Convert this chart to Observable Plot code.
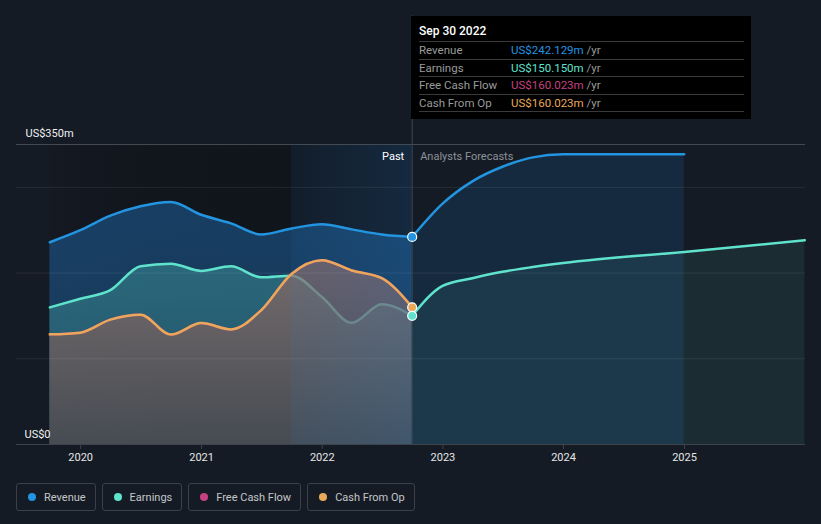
<!DOCTYPE html>
<html>
<head>
<meta charset="utf-8">
<script src="https://cdn.jsdelivr.net/npm/d3@7"></script>
<script src="https://cdn.jsdelivr.net/npm/@observablehq/plot@0.6"></script>
<style>
  html, body { margin: 0; padding: 0; background: #151b24; }
  body { width: 821px; height: 524px; position: relative; overflow: hidden; font-family: Roboto, "Noto Sans", sans-serif; }
  #chart { position: absolute; left: 0; top: 0; }
  #tip { position: absolute; left: 411px; top: 16px; width: 340px; height: 103px; background: #000; box-sizing: border-box; padding: 0 7px 0 8px; }
  #tip .title { color: #fff; font-size: 12px; font-weight: 500; height: 25px; line-height: 30px; }
  #tip .row { height: 16.5px; border-top: 1px solid #3a3a3a; font-size: 11.5px; line-height: 16.5px; color: #9a9a9a; display: flex; }
  #tip .row:last-child { border-bottom: 1px solid #3a3a3a; }
  #tip .lab { width: 92px; }
  #legend { position: absolute; left: 16px; top: 483px; display: flex; gap: 6px; }
  .item { height: 26px; border: 1px solid #3a404a; border-radius: 3px; display: flex; align-items: center; padding: 0 9px 0 11px; color: #c4c6c9; font-size: 11px; box-sizing: content-box; }
  .dot { width: 8px; height: 8px; border-radius: 50%; margin-right: 8px; }
</style>
</head>
<body>
<div id="chart"></div>
<div id="tip"></div>
<div id="legend"></div>
<script>
// ---- data (values in US$ millions) ----
const pastDates = ["2019-09-30","2019-12-31","2020-03-31","2020-06-30","2020-09-30","2020-12-31","2021-03-31","2021-06-30","2021-09-30","2021-12-31","2022-03-31","2022-06-30","2022-09-30"];
const revenuePast  = [236, 250, 267, 278, 283, 268, 258, 245, 252, 257, 251, 245, 242.129];
const earningsPast = [160, 170, 180, 208, 211, 202.5, 208, 195, 197, 172, 142, 163.5, 150.15];
const fcfPast      = [128.5, 130.5, 145.7, 151.5, 128.2, 141.7, 134.3, 156.5, 199, 215, 203, 194, 160.023];
const cfoPast      = [128.5, 130.5, 145.7, 151.5, 128.2, 141.7, 134.3, 156.5, 199, 215, 203, 194, 160.023];

const revForecastDates = ["2022-09-30","2022-12-31","2023-03-31","2023-06-30","2023-09-30","2023-12-31","2024-12-31"];
const revForecast      = [242.129, 281, 307, 324, 335, 338.5, 338.5];
const earnForecastDates = ["2022-09-30","2022-12-31","2023-03-31","2023-06-30","2023-09-30","2023-12-31","2024-12-31","2025-12-31"];
const earnForecast      = [150.15, 185, 194, 201.5, 207, 211.7, 224.7, 238.3];

const latestDate = "2022-09-30";
const highlightStart = "2021-09-30";
const xTickYears = ["2020-01-01","2021-01-01","2022-01-01","2023-01-01","2024-01-01","2025-01-01"];
const yTicks = [100, 200, 300];
const yMax = 350;
const yTopLabel = "US$350m";
const yZeroLabel = "US$0";

const series = [
  {name: "Revenue", color: "#2394e0", value: "US$242.129m"},
  {name: "Earnings", color: "#5fe3cc", value: "US$150.150m"},
  {name: "Free Cash Flow", color: "#c7407f", value: "US$160.023m"},
  {name: "Cash From Op", color: "#e9a95b", value: "US$160.023m"}
];

// ---- build tables ----
const P = d3.utcParse("%Y-%m-%d");
const mk = (dates, vals) => dates.map((d, i) => ({date: P(d), v: vals[i]}));
const rev = mk(pastDates, revenuePast);
const earn = mk(pastDates, earningsPast);
const fcf = mk(pastDates, fcfPast);
const cfo = mk(pastDates, cfoPast);
const revF = mk(revForecastDates, revForecast);
const earnF = mk(earnForecastDates, earnForecast);
const last = P(latestDate);
const lastPts = [
  {date: last, v: revenuePast.at(-1), c: series[0].color},
  {date: last, v: cfoPast.at(-1), c: series[3].color},
  {date: last, v: earningsPast.at(-1), c: series[1].color}
];
const curve = "monotone-x";

const plot = Plot.plot({
  width: 821,
  height: 470,
  marginLeft: 16,
  marginRight: 16,
  marginTop: 144,
  marginBottom: 26,
  style: {background: "transparent", fontFamily: "Roboto, sans-serif"},
  x: {type: "utc", domain: [P("2019-06-21"), P("2026-01-02")]},
  y: {domain: [0, yMax], axis: null},
  marks: [
    Plot.rectY([{a: P(pastDates[0]), b: last}], {x1: "a", x2: "b", y1: 0, y2: yMax, fill: "url(#pastBg)"}),
    Plot.areaY(rev, {x: "date", y: "v", curve, fill: "url(#revFill)"}),
    Plot.areaY(earn, {x: "date", y: "v", curve, fill: "url(#earnFill)"}),
    Plot.lineY(earn, {x: "date", y: "v", curve, stroke: series[1].color, strokeWidth: 2.5}),
    Plot.areaY(cfo, {x: "date", y: "v", curve, fill: "url(#cashFill)"}),
    Plot.rectY([{a: P(highlightStart), b: last}], {x1: "a", x2: "b", y1: 0, y2: yMax, fill: "url(#hlFill)"}),
    Plot.areaY(revF, {x: "date", y: "v", curve, fill: "rgb(33,125,205)", fillOpacity: 0.16}),
    Plot.areaY(earnF, {x: "date", y: "v", curve, fill: "rgb(70,150,150)", fillOpacity: 0.14}),
    Plot.ruleY(yTicks, {stroke: "#ffffff", strokeOpacity: 0.08}),
    Plot.ruleY([yMax], {stroke: "#444a53"}),
    Plot.ruleY([0], {stroke: "#3d434c"}),
    Plot.lineY(rev, {x: "date", y: "v", curve, stroke: series[0].color, strokeWidth: 2.5}),
    Plot.lineY(fcf, {x: "date", y: "v", curve, stroke: series[2].color, strokeWidth: 2.5}),
    Plot.lineY(cfo, {x: "date", y: "v", curve, stroke: series[3].color, strokeWidth: 2.5}),
    Plot.lineY(revF, {x: "date", y: "v", curve, stroke: series[0].color, strokeWidth: 2.5}),
    Plot.lineY(earnF, {x: "date", y: "v", curve, stroke: series[1].color, strokeWidth: 2.5}),
    Plot.ruleX([last], {y1: 0, y2: 500, stroke: "#3c4754", strokeWidth: 1}),
    Plot.dot(lastPts, {x: "date", y: "v", fill: "c", r: 4.5, stroke: "#ffffff", strokeWidth: 1.2}),
    Plot.axisX(xTickYears.map(P), {tickFormat: d3.utcFormat("%Y"), tickSize: 5, tickPadding: 4, stroke: "#3d434c", fill: "#e6e6e6", fontSize: 11, label: null}),
    Plot.text([yTopLabel], {y: yMax, text: d => d, frameAnchor: "left", dx: 9, dy: -8, lineAnchor: "bottom", textAnchor: "start", fill: "#f2f2f2", fontSize: 11}),
    Plot.text([yZeroLabel], {y: 0, text: d => d, frameAnchor: "left", dx: 8, dy: -7, lineAnchor: "bottom", textAnchor: "start", fill: "#f2f2f2", fontSize: 11}),
    Plot.text(["Past"], {x: last, y: yMax, text: d => d, dx: -8, dy: 12, textAnchor: "end", fill: "#ffffff", fontSize: 11}),
    Plot.text(["Analysts Forecasts"], {x: last, y: yMax, text: d => d, dx: 8, dy: 12, textAnchor: "start", fill: "#8c9199", fontSize: 11})
  ]
});

d3.select(plot).insert("defs", ":first-child").html(`
  <linearGradient id="pastBg" x1="0" x2="1" y1="0" y2="0">
    <stop offset="0" stop-color="#141922"/><stop offset="0.3" stop-color="#11151c"/><stop offset="1" stop-color="#10141b"/>
  </linearGradient>
  <linearGradient id="revFill" x1="0" x2="0" y1="0" y2="1">
    <stop offset="0" stop-color="rgb(33,125,205)" stop-opacity="0.4"/><stop offset="1" stop-color="rgb(33,125,205)" stop-opacity="0.3"/>
  </linearGradient>
  <linearGradient id="earnFill" x1="0" x2="0" y1="0" y2="1">
    <stop offset="0" stop-color="rgb(80,190,180)" stop-opacity="0.34"/><stop offset="1" stop-color="rgb(80,190,180)" stop-opacity="0.18"/>
  </linearGradient>
  <linearGradient id="cashFill" x1="0" x2="0" y1="0" y2="1">
    <stop offset="0" stop-color="rgb(150,108,100)" stop-opacity="0.68"/><stop offset="1" stop-color="rgb(85,75,76)" stop-opacity="0.72"/>
  </linearGradient>
  <linearGradient id="hlFill" x1="0" x2="1" y1="0" y2="0">
    <stop offset="0" stop-color="rgb(40,130,210)" stop-opacity="0.08"/><stop offset="1" stop-color="rgb(40,130,210)" stop-opacity="0.2"/>
  </linearGradient>
`);
document.getElementById("chart").appendChild(plot);

// tooltip
const tip = d3.select("#tip");
tip.append("div").attr("class", "title").text(d3.utcFormat("%b %d %Y")(last));
series.forEach(s => {
  const r = tip.append("div").attr("class", "row");
  r.append("span").attr("class", "lab").text(s.name);
  r.append("span").style("color", s.color).text(s.value);
  r.append("span").style("color", "#9a9a9a").html("&nbsp;/yr");
});

// legend
const lg = d3.select("#legend");
series.forEach(s => {
  const it = lg.append("div").attr("class", "item");
  it.append("span").attr("class", "dot").style("background", s.color);
  it.append("span").text(s.name);
});
</script>
</body>
</html>
